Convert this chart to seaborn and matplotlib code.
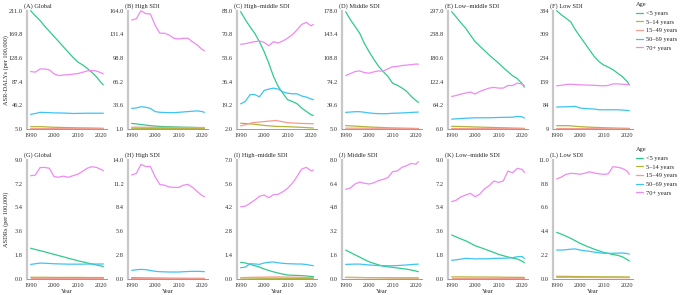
import numpy as np
import pandas as pd
import seaborn as sns
import matplotlib.pyplot as plt

# yearly grid used for the detailed series, coarse grid for the flat ones
YEARS = [1990, 1992, 1994, 1996, 1998, 2000, 2002, 2004, 2006, 2008,
         2010, 2012, 2014, 2016, 2018, 2020, 2021]
COARSE = [1990, 1995, 2000, 2005, 2010, 2015, 2021]

AGES = ['<5 years', '5–14 years', '15–49 years', '50–69 years', '70+ years']
COLORS = ['#2FCB8B', '#B2B53A', '#F59B8F', '#3EC3F5', '#EE8AF2']

# ---- ASR-DALYs (top row) ----
A_lt5 = [211, 202, 194, 184, 175, 166, 157, 148, 139, 130, 122, 117, 111, 104, 96, 86, 82]
A_5 = [9, 9, 8, 7.5, 7, 6.8, 6.2]
A_15 = [5.5, 5.6, 5.7, 5.7, 5.7, 5.6, 5.5]
A_50 = [30.5, 32, 34, 33.8, 33.5, 33, 33, 32.8, 32.5, 32, 32.2, 32.3, 32.5, 32.5, 32.5, 32.5, 32.5]
A_70 = [105, 104, 109.5, 109.5, 108, 101, 98, 99, 99.5, 100.5, 101.5, 103.5, 106, 107, 106, 103, 101]

B_lt5 = [8.7, 8, 7.2, 6.4, 5.6, 5, 4.6, 4.3, 4.1, 3.9, 3.7, 3.5, 3.4, 3.2, 3.0, 2.9, 2.8]
B_5 = [2.0, 1.9, 1.8, 1.7, 1.6, 1.5, 1.5]
B_15 = [3.5, 3.4, 3.3, 3.2, 3.1, 3.0, 3.0]
B_50 = [29.4, 30, 31.7, 31, 29.4, 25, 24, 23.8, 23.5, 23.5, 24, 24.5, 25, 25.5, 26, 25, 24]
B_70 = [151, 153, 164, 160, 159.5, 144, 133, 133, 130.5, 126, 125, 126, 126, 121, 116.7, 110.7, 109]

C_lt5 = [87.3, 81.5, 76.3, 71.6, 65.5, 58.3, 49.8, 40.2, 33, 28, 23.3, 22, 20.4, 17.2, 14.8, 12.4, 11.9]
C_5 = [6.2, 5.6, 4.6, 3.9, 3.7, 3.3, 2.7]
C_15 = [4.2, 6.6, 7.4, 8.2, 6.6, 6.1, 5.8]
C_50 = [20.3, 22, 27, 27, 25.4, 30, 31, 31.7, 31, 29, 28, 27.6, 27.6, 26, 25.2, 23.8, 23.3]
C_70 = [63.6, 64, 64.8, 65.5, 66, 65, 62.5, 65.5, 64.5, 66, 68, 70.5, 74, 78, 79.5, 77, 78]

D_lt5 = [176.5, 165, 155, 145, 130, 118, 107, 97, 89, 82, 72, 69, 65, 60, 52.6, 46.5, 44]
D_5 = [10, 9, 8, 7.2, 6.5, 6, 5.5]
D_15 = [6.2, 6.2, 6.1, 6, 6, 5.9, 5.8]
D_50 = [29.3, 29.8, 30.3, 30.3, 29.5, 28.5, 27.8, 27.5, 27.3, 27.5, 28, 28.2, 28.5, 28.8, 29.2, 29.6, 29.8]
D_70 = [83, 86, 89, 90, 87.5, 86.6, 88.5, 90, 89.5, 93, 96, 96.5, 97.8, 98.5, 99.2, 100, 99.8]

E_lt5 = [294.5, 281, 267, 253.7, 237, 221, 210, 199, 188, 178, 168, 157, 147, 137, 130, 118, 109]
E_5 = [12.5, 12, 11, 10.2, 9.3, 8.5, 7.6]
E_15 = [7.2, 7.2, 7.1, 7, 7, 6.9, 6.8]
E_50 = [30.3, 31, 31.8, 32.5, 33, 33.6, 33.6, 33.6, 33.6, 34, 34.4, 34.6, 34.8, 35, 37, 36, 32.8]
E_70 = [86, 88.5, 92, 94.4, 97, 92, 98.6, 102.6, 106.6, 108.3, 106.6, 106.6, 113, 113, 119, 116.5, 112.4]

F_lt5 = [384, 371, 360, 349, 323, 302, 281, 260, 239, 223, 212, 205, 197, 186, 175, 160, 149]
F_5 = [19.5, 19.5, 16.4, 14.5, 13, 12, 11]
F_15 = [10.5, 10.5, 10.3, 10.2, 10, 9.8, 9.6]
F_50 = [78.5, 79, 79.5, 80, 80.7, 75.5, 74, 73, 72.3, 70, 70, 70, 70, 70, 69, 68, 67]
F_70 = [146, 147.5, 150, 151, 150, 149, 148.5, 148, 147.5, 146.5, 146, 147, 152, 152, 151, 150, 149]

# ---- ASDRs (bottom row) ----
G_lt5 = [2.32, 2.23, 2.14, 2.05, 1.95, 1.86, 1.76, 1.67, 1.57, 1.48, 1.38, 1.30, 1.22, 1.14, 1.06, 0.98, 0.94]
G_5 = [0.13, 0.13, 0.12, 0.12, 0.12, 0.11, 0.11]
G_15 = [0.1, 0.1, 0.1, 0.1, 0.1, 0.1, 0.1]
G_50 = [1.1, 1.15, 1.2, 1.19, 1.17, 1.15, 1.14, 1.13, 1.12, 1.12, 1.12, 1.12, 1.13, 1.13, 1.13, 1.13, 1.13]
G_70 = [7.79, 7.84, 8.4, 8.42, 8.35, 7.72, 7.68, 7.76, 7.67, 7.79, 7.9, 8.1, 8.35, 8.47, 8.42, 8.27, 8.17]

H_lt5 = [0.15, 0.12, 0.1, 0.09, 0.08, 0.07, 0.06]
H_5 = [0.04, 0.04, 0.04, 0.03, 0.03, 0.03, 0.03]
H_15 = [0.07, 0.07, 0.07, 0.06, 0.06, 0.06, 0.06]
H_50 = [1.02, 1.08, 1.13, 1.1, 1.0, 0.9, 0.86, 0.84, 0.82, 0.82, 0.82, 0.85, 0.88, 0.9, 0.9, 0.88, 0.86]
H_70 = [12.2, 12.4, 13.45, 13.2, 13.2, 12.0, 11.1, 11.0, 10.8, 10.75, 10.75, 11.0, 11.1, 10.75, 10.25, 9.8, 9.66]

I_lt5 = [0.98, 0.94, 0.86, 0.78, 0.7, 0.59, 0.5, 0.42, 0.35, 0.29, 0.23, 0.22, 0.21, 0.2, 0.18, 0.15, 0.14]
I_5 = [0.06, 0.05, 0.04, 0.04, 0.03, 0.03, 0.03]
I_15 = [0.08, 0.1, 0.11, 0.12, 0.11, 0.1, 0.08]
I_50 = [0.66, 0.7, 0.9, 0.88, 0.86, 0.94, 0.98, 1.0, 0.95, 0.92, 0.9, 0.89, 0.88, 0.88, 0.85, 0.8, 0.78]
I_70 = [4.24, 4.27, 4.44, 4.63, 4.85, 4.93, 4.77, 4.95, 4.97, 5.12, 5.32, 5.61, 6.0, 6.45, 6.55, 6.35, 6.39]

J_lt5 = [1.94, 1.78, 1.62, 1.47, 1.3, 1.16, 1.05, 0.95, 0.86, 0.82, 0.78, 0.74, 0.7, 0.66, 0.6, 0.53, 0.49]
J_5 = [0.11, 0.1, 0.09, 0.08, 0.07, 0.06, 0.06]
J_15 = [0.1, 0.1, 0.09, 0.09, 0.08, 0.08, 0.08]
J_50 = [0.98, 0.99, 1.0, 1.0, 0.97, 0.94, 0.92, 0.9, 0.89, 0.89, 0.89, 0.9, 0.92, 0.94, 0.97, 0.99, 1.0]
J_70 = [6.01, 6.1, 6.37, 6.5, 6.42, 6.37, 6.45, 6.6, 6.68, 6.8, 7.2, 7.24, 7.49, 7.6, 7.75, 7.7, 7.87]

K_lt5 = [3.32, 3.17, 3.02, 2.88, 2.7, 2.51, 2.39, 2.26, 2.13, 2.0, 1.86, 1.76, 1.66, 1.58, 1.51, 1.35, 1.23]
K_5 = [0.16, 0.16, 0.15, 0.15, 0.14, 0.13, 0.12]
K_15 = [0.1, 0.1, 0.1, 0.1, 0.1, 0.1, 0.1]
K_50 = [1.41, 1.45, 1.5, 1.56, 1.54, 1.51, 1.53, 1.52, 1.53, 1.56, 1.56, 1.57, 1.58, 1.61, 1.68, 1.7, 1.56]
K_70 = [5.83, 5.95, 6.2, 6.33, 6.46, 6.21, 6.4, 6.8, 7.04, 7.39, 7.29, 7.39, 8.14, 8.02, 8.35, 8.27, 8.04]

L_lt5 = [4.3, 4.14, 3.95, 3.75, 3.52, 3.29, 3.1, 2.92, 2.75, 2.6, 2.46, 2.36, 2.26, 2.18, 2.05, 1.8, 1.66]
L_5 = [0.25, 0.24, 0.22, 0.21, 0.2, 0.2, 0.19]
L_15 = [0.15, 0.15, 0.14, 0.14, 0.13, 0.13, 0.12]
L_50 = [2.67, 2.67, 2.7, 2.75, 2.77, 2.67, 2.61, 2.55, 2.48, 2.42, 2.37, 2.37, 2.37, 2.38, 2.4, 2.35, 2.3]
L_70 = [9.22, 9.4, 9.65, 9.74, 9.72, 9.66, 9.75, 9.88, 9.78, 9.7, 9.65, 9.7, 10.36, 10.3, 10.2, 9.96, 9.65]

TITLES_TOP = ['(A) Global', '(B) High SDI', '(C) High–middle SDI',
              '(D) Middle SDI', '(E) Low–middle SDI', '(F) Low SDI']
TITLES_BOT = ['(G) Global', '(H) High SDI', '(I) High–middle SDI',
              '(J) Middle SDI', '(K) Low–middle SDI', '(L) Low SDI']
LIMS_TOP = [(5, 211), (1, 164), (2, 88), (5, 178), (6, 297), (9, 384)]
LIMS_BOT = [(0, 9), (0, 14), (0, 7), (0, 8), (0, 9), (0, 11)]

TOP = [(A_lt5, A_5, A_15, A_50, A_70), (B_lt5, B_5, B_15, B_50, B_70),
       (C_lt5, C_5, C_15, C_50, C_70), (D_lt5, D_5, D_15, D_50, D_70),
       (E_lt5, E_5, E_15, E_50, E_70), (F_lt5, F_5, F_15, F_50, F_70)]
BOT = [(G_lt5, G_5, G_15, G_50, G_70), (H_lt5, H_5, H_15, H_50, H_70),
       (I_lt5, I_5, I_15, I_50, I_70), (J_lt5, J_5, J_15, J_50, J_70),
       (K_lt5, K_5, K_15, K_50, K_70), (L_lt5, L_5, L_15, L_50, L_70)]


def to_frame(series):
    rows = []
    for age, vals in zip(AGES, series):
        yrs = YEARS if len(vals) == len(YEARS) else COARSE
        for y, v in zip(yrs, vals):
            rows.append((y, v, age))
    return pd.DataFrame(rows, columns=['year', 'value', 'age'])


sns.set_style('white')
plt.rcParams['font.family'] = ['Liberation Serif', 'DejaVu Serif']

FS = 4.6
W, H = 681, 295
fig = plt.figure(figsize=(W / 100, H / 100), dpi=100)
LEFTS = [27, 128, 237, 342, 448, 553]
AX_W = 80
ROWS = [(10.7, 129), (159.7, 279)]
LEG_TOP = [1, 146]
palette = dict(zip(AGES, COLORS))

for r, (data, titles, lims) in enumerate([(TOP, TITLES_TOP, LIMS_TOP), (BOT, TITLES_BOT, LIMS_BOT)]):
    top_px, bot_px = ROWS[r]
    for i in range(6):
        ax = fig.add_axes([LEFTS[i] / W, 1 - bot_px / H, AX_W / W, (bot_px - top_px) / H])
        df = to_frame(data[i])
        sns.lineplot(data=df, x='year', y='value', hue='age', palette=palette,
                     hue_order=AGES, ax=ax, legend=False, linewidth=0.9)
        for ln in ax.lines:
            ln.set_clip_on(False)
        lo, hi = lims[i]
        ax.set_xlim(1988.45, 2022.55)
        ax.set_ylim(lo, hi)
        ticks = np.linspace(lo, hi, 6)
        ax.set_yticks(ticks)
        fmt = '{:.0f}' if (r == 0 and i == 5) else '{:.1f}'
        ax.set_yticklabels([fmt.format(t) for t in ticks])
        ax.set_xticks([1990, 2000, 2010, 2020])
        ax.tick_params(labelsize=FS, length=2, width=0.5, pad=1, colors='#333333')
        for s in ['top', 'right']:
            ax.spines[s].set_visible(False)
        ax.spines['left'].set_color('#C8C8C8')
        ax.spines['left'].set_linewidth(1.6)
        ax.spines['bottom'].set_color('#9A9A9A')
        ax.spines['bottom'].set_linewidth(0.7)
        ax.set_ylabel('')
        ax.set_xlabel('Year' if r == 1 else '', fontsize=FS, labelpad=0.5)
        ax.set_title(titles[i], loc='left', fontsize=FS, pad=2, x=-0.04)

    handles = [plt.Line2D([], [], color=c, lw=0.9) for c in COLORS]
    leg = fig.legend(handles, AGES, title='Age', loc='upper left',
                     bbox_to_anchor=(635 / W, 1 - LEG_TOP[r] / H), bbox_transform=fig.transFigure,
                     frameon=False, fontsize=FS, title_fontsize=FS, handlelength=1.1,
                     labelspacing=0.5, handletextpad=0.35, borderaxespad=0, borderpad=0.2)
    leg._legend_box.align = 'left'

fig.text(0.004, 1 - (10.7 + 129) / 2 / H, 'ASR-DALYs (per 100,000)', rotation=90,
         va='center', ha='left', fontsize=FS)
fig.text(0.004, 1 - (159.7 + 279) / 2 / H, 'ASDRs (per 100,000)', rotation=90,
         va='center', ha='left', fontsize=FS)

fig.savefig('out.png', dpi=100)
